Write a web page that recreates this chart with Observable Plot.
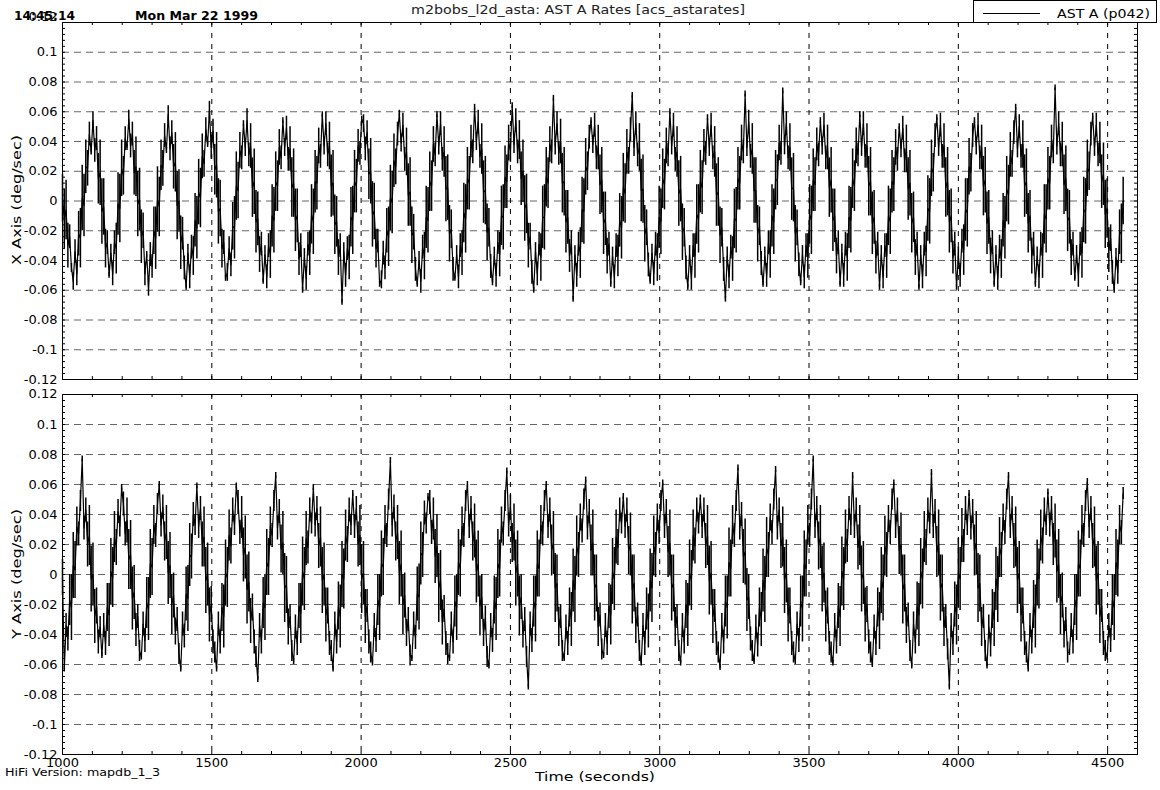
<!DOCTYPE html>
<html><head><meta charset="utf-8">
<script src="https://cdn.jsdelivr.net/npm/d3@7"></script>
<script src="https://cdn.jsdelivr.net/npm/@observablehq/plot@0.6"></script>
<style>
html,body{margin:0;padding:0;background:#fff;}
#wrap{position:relative;width:1160px;height:790px;overflow:hidden;font-family:"DejaVu Sans",sans-serif;}
#p1,#p2,#ov{position:absolute;left:0;}
#p1{top:0}
#p2{top:385px}
#ov{top:0;pointer-events:none}
</style></head>
<body><div id="wrap"><div id="p1"></div><div id="p2"></div><svg id="ov" width="1160" height="790"></svg></div>
<script>
// sampling: first sample time and step (seconds)
const startTime = 1000, sampleStep = 6;
// AST A X-axis rate, thousandths of deg/sec
const xRates = [2,-12,-6,-30,-24,-45,
-54,-34,-49,-22,-25,2,-3,23,22,45,33,
54,34,42,15,19,-7,-4,-32,-28,-50,
-35,-49,-28,-32,-2,-5,22,17,42,36,
55,37,45,19,23,-2,1,-24,-20,-49,-36,
-58,-36,-44,-20,-25,1,-4,24,22,44,34,
58,35,46,23,26,-3,0,-28,-22,-45,-58,
-35,-51,-31,-37,-13,-18,6,2,30,25,48,38,
61,36,47,21,24,-7,-5,-32,-28,-52,
-48,-32,-43,-17,-18,10,7,34,29,52,
36,54,31,37,9,13,-14,-12,-36,-29,-54,
-36,-51,-30,-36,-10,-13,13,10,36,29,54,
36,49,28,35,9,12,-13,-10,-39,-30,-60,
-38,-52,-29,-35,-9,-14,13,12,37,30,58,
37,52,31,37,10,12,-16,-14,-38,-30,-68,
-34,-50,-32,-38,-11,-13,13,10,37,32,55,
52,35,46,18,20,-9,-7,-32,-27,-56,
-53,-35,-45,-20,-24,2,-1,27,23,45,59,
39,51,28,33,4,6,-23,-21,-46,-56,
-40,-54,-31,-37,-11,-13,13,10,38,31,58,
37,52,28,33,8,9,-22,-19,-46,-52,
-36,-51,-30,-35,-8,-12,15,12,40,33,63,
40,53,30,35,6,7,-21,-18,-44,-55,
-37,-50,-28,-36,-10,-11,16,13,39,34,64,
38,54,33,41,15,20,-5,-2,-30,-24,-48,-60,
-34,-49,-29,-38,-11,-11,16,12,38,33,69,
37,52,32,40,12,13,-14,-11,-37,-28,-66,
-36,-50,-29,-35,-6,-7,23,20,43,54,
38,51,29,36,11,14,-15,-12,-37,-29,-56,
-37,-51,-30,-37,-13,-18,9,5,33,27,48,71,
36,52,31,36,7,8,-22,-18,-43,-54,
-35,-49,-29,-38,-11,-14,15,11,37,31,60,
37,51,28,33,5,8,-21,-18,-45,-58,
-36,-52,-30,-37,-9,-12,13,9,37,32,56,
36,51,29,33,4,6,-23,-18,-46,-66,
-37,-51,-31,-39,-12,-13,15,12,39,33,72,
36,53,30,35,7,7,-22,-17,-42,-56,
-37,-50,-28,-36,-10,-14,14,14,39,32,74,
37,52,29,36,8,9,-22,-18,-43,-55,
-36,-51,-30,-37,-9,-13,14,11,38,31,54,
37,51,29,36,9,14,-13,-10,-37,-28,-56,
-35,-50,-29,-38,-11,-13,15,10,37,31,58,
36,52,30,37,10,13,-15,-11,-38,-29,-58,
-36,-51,-30,-37,-10,-14,13,11,36,28,50,
35,49,27,35,8,12,-15,-11,-38,-29,-58,
-36,-51,-29,-34,-5,-7,22,19,44,56,
36,51,30,37,9,13,-14,-10,-38,-29,-58,
-37,-50,-27,-33,-6,-8,23,19,44,54,
37,51,29,36,10,14,-15,-11,-37,-28,-56,
-36,-52,-31,-39,-13,-18,8,4,31,25,46,63,
35,50,30,38,10,13,-15,-10,-37,-29,-56,
-37,-51,-29,-37,-9,-12,15,12,40,33,76,
37,52,31,38,11,15,-13,-11,-38,-29,-52,
-36,-50,-29,-35,-6,-7,22,20,45,57,
36,51,31,39,13,18,-9,-5,-33,-25,-48,-60,
-38,-48,-21,-22,0];
// AST A Y-axis rate, thousandths of deg/sec
const yRates = [-2,
-63,-34,-43,-17,-22,6,3,32,27,49,
77,31,43,20,26,-3,0,-28,-21,-45,-35,
-54,-34,-46,-22,-27,2,-2,25,18,42,32,
58,47,27,36,10,13,-16,-12,-37,-28,-51,
-55,-33,-44,-19,-23,7,5,33,26,47,
60,33,45,22,28,1,6,-20,-14,-38,-30,-53,
-63,-33,-41,-13,-16,13,12,40,33,
59,32,44,20,25,-4,0,-27,-20,-45,-52,
-63,-33,-45,-22,-28,1,-2,26,19,43,33,
59,48,28,38,13,18,-10,-5,-31,-22,-45,-55,
-70,-34,-45,-19,-22,8,5,32,26,49,
66,31,42,17,21,-9,-7,-35,-28,-51,
-58,-35,-46,-21,-26,2,-3,24,18,43,34,
58,33,44,19,25,-4,0,-27,-21,-46,-51,
-63,-33,-45,-21,-28,0,-3,26,20,43,33,
54,32,44,20,26,-3,1,-28,-21,-45,-52,
-59,-34,-44,-17,-22,7,5,33,26,50,
76,33,45,22,28,1,7,-20,-14,-39,-30,-54,
-56,-33,-42,-13,-15,14,13,41,34,
52,48,28,37,12,19,-9,-4,-32,-23,-46,-53,
-56,-33,-45,-18,-22,8,4,32,26,49,
60,32,44,22,29,2,7,-21,-15,-39,-29,-55,
-61,-34,-44,-17,-23,7,4,33,27,49,
69,33,45,21,28,1,7,-21,-15,-40,-30,-55,
-75,-33,-44,-18,-23,7,4,33,27,49,
60,32,43,16,21,-9,-6,-35,-28,-51,
-56,-35,-46,-22,-30,-4,-10,19,13,38,29,50,
63,31,42,16,21,-9,-6,-35,-27,-50,
-54,-34,-46,-21,-27,2,-3,25,18,43,34,
52,32,43,16,20,-10,-6,-34,-27,-51,
-59,-34,-46,-23,-31,-4,-9,19,13,38,28,49,
61,32,42,15,21,-9,-6,-35,-28,-51,
-59,-34,-45,-20,-27,1,-4,26,19,43,34,
51,32,43,19,26,-4,1,-28,-21,-46,-52,
-62,-34,-45,-18,-22,8,4,33,26,49,
71,31,40,12,15,-17,-15,-43,-51,
-58,-35,-47,-22,-30,-4,-10,18,13,38,28,50,
70,31,43,19,25,-4,2,-27,-21,-46,-52,
-58,-33,-44,-18,-23,7,4,33,26,50,
77,32,44,19,25,-3,1,-28,-21,-46,-52,
-59,-34,-45,-21,-28,2,-3,25,19,44,33,
66,32,43,18,26,-3,1,-27,-20,-45,-52,
-60,-35,-46,-22,-31,-4,-9,19,13,37,28,50,
61,32,43,16,20,-10,-6,-34,-27,-51,
-61,-33,-45,-21,-27,2,-3,25,18,43,34,
68,32,42,15,21,-9,-6,-35,-28,-50,
-75,-34,-46,-20,-27,1,-3,26,19,44,33,
54,31,42,16,21,-9,-6,-35,-28,-51,
-61,-35,-47,-23,-30,-3,-10,18,13,38,28,50,
66,32,44,19,25,-4,1,-27,-21,-46,-52,
-63,-34,-45,-20,-28,1,-3,26,19,43,33,
55,33,44,20,29,2,7,-20,-14,-40,-30,-52,
-52,-34,-45,-17,-22,7,4,33,26,49,
62,32,44,19,25,-4,1,-28,-21,-46,-51,
-55,-34,-44,-17,-22,8,4,33,28,54];
// half-height of the fast jitter band around each sample (thousandths of deg/sec):
// widest on the steep flanks, narrower at the crests and troughs
const xJitter = [16,20,20,15,8,3,
6,8,8,15,20,22,21,18,12,8,2,
6,8,8,17,22,22,19,13,8,2,
6,8,8,17,21,23,19,13,8,2,
6,8,8,15,20,22,21,18,12,8,2,
6,8,8,16,21,22,20,17,12,8,2,
6,8,8,15,20,23,21,18,11,8,2,
6,8,8,13,18,21,22,20,15,9,8,2,
6,8,8,17,22,22,19,13,8,2,
6,8,8,16,21,23,19,12,8,2,
6,8,8,15,20,22,21,18,12,8,2,
6,8,8,16,21,22,20,17,12,8,2,
6,8,8,15,20,23,21,18,11,8,2,
6,8,8,15,20,22,21,18,12,8,2,
6,8,8,16,21,22,20,17,12,8,2,
6,8,8,15,20,23,21,18,11,8,2,
6,8,8,17,22,22,19,13,8,2,
6,8,8,15,20,22,21,18,12,8,2,
6,8,8,16,21,23,19,12,8,2,
6,8,8,16,21,22,20,17,12,8,2,
6,8,8,17,22,22,19,13,8,2,
6,8,8,15,20,23,21,18,11,8,2,
6,8,8,17,21,23,19,13,8,2,
6,8,8,15,20,22,21,18,12,8,2,
6,8,8,13,18,21,22,20,15,9,8,2,
6,8,8,16,21,22,20,17,12,8,2,
6,8,8,15,20,23,21,18,11,8,2,
6,8,8,17,22,22,19,13,8,2,
6,8,8,15,20,22,21,18,12,8,2,
6,8,8,14,18,21,23,20,15,9,8,2,
6,8,8,16,21,23,19,12,8,2,
6,8,8,16,21,22,20,17,12,8,2,
6,8,8,17,22,22,19,13,8,2,
6,8,8,15,20,23,21,18,11,8,2,
6,8,8,17,21,23,19,13,8,2,
6,8,8,15,20,22,21,18,12,8,2,
6,8,8,17,22,22,19,13,8,2,
6,8,8,16,21,22,20,17,12,8,2,
6,8,8,16,21,23,19,12,8,2,
6,8,8,15,20,23,21,18,11,8,2,
6,8,8,15,20,22,21,18,12,8,2,
6,8,8,16,21,22,20,17,12,8,2,
6,8,8,15,20,23,21,18,11,8,2,
6,8,8,15,20,22,21,18,12,8,2,
6,8,8,16,21,22,20,17,12,8,2,
6,8,8,17,22,22,19,13,8,2,
6,8,8,15,20,23,21,18,11,8,2,
6,8,8,17,21,23,19,13,8,2,
6,8,8,15,20,22,21,18,12,8,2,
6,8,8,13,18,21,22,20,15,9,8,2,
6,8,8,16,21,22,20,17,12,8,2,
6,8,8,15,20,23,21,18,11,8,2,
6,8,8,15,20,22,21,18,12,8,2,
6,8,8,17,22,22,19,13,8,2,
6,8,8,14,18,21,23,20,15,9,8,2,
6,8,15,20,16];
const yJitter = [12,
2,8,8,17,22,22,19,13,8,7,
2,8,8,15,20,22,21,18,12,8,7,
2,8,8,16,21,22,20,17,12,8,7,
2,8,8,15,20,23,21,18,11,8,7,
2,8,8,17,21,23,19,13,8,7,
2,8,8,13,18,21,22,20,15,9,8,7,
2,8,8,18,22,21,15,8,7,
2,8,8,15,20,22,21,18,12,8,7,
2,8,8,16,21,22,20,17,12,8,7,
2,8,8,14,18,21,23,20,15,9,8,7,
2,8,8,17,22,22,19,13,8,7,
2,8,8,16,21,23,19,12,8,7,
2,8,8,15,20,23,21,18,11,8,7,
2,8,8,15,20,22,21,18,12,8,7,
2,8,8,16,21,22,20,17,12,8,7,
2,8,8,15,20,23,21,18,11,8,7,
2,8,8,17,22,22,19,13,8,7,
2,8,8,13,18,21,22,20,15,9,8,7,
2,8,8,18,22,21,15,8,7,
2,8,8,14,18,21,23,20,15,9,8,7,
2,8,8,17,22,22,19,13,8,7,
2,8,8,13,18,21,22,20,15,9,8,7,
2,8,8,16,21,23,19,12,8,7,
2,8,8,13,19,22,22,20,15,9,8,7,
2,8,8,17,22,22,19,13,8,7,
2,8,8,17,21,23,19,13,8,7,
2,8,8,13,18,21,22,20,15,9,8,7,
2,8,8,17,22,22,19,13,8,7,
2,8,8,15,20,22,21,18,12,8,7,
2,8,8,16,21,23,19,12,8,7,
2,8,8,14,18,21,23,20,15,9,8,7,
2,8,8,17,22,22,19,13,8,7,
2,8,8,16,21,22,20,17,12,8,7,
2,8,8,15,20,23,21,18,11,8,7,
2,8,8,17,21,23,19,13,8,7,
2,8,8,18,22,21,15,8,7,
2,8,8,13,18,21,22,20,15,9,8,7,
2,8,8,15,20,22,21,18,12,8,7,
2,8,8,17,22,22,19,13,8,7,
2,8,8,16,21,22,20,17,12,8,7,
2,8,8,15,20,23,21,18,11,8,7,
2,8,8,15,20,22,21,18,12,8,7,
2,8,8,13,19,22,22,20,15,9,8,7,
2,8,8,16,21,23,19,12,8,7,
2,8,8,16,21,22,20,17,12,8,7,
2,8,8,17,22,22,19,13,8,7,
2,8,8,15,20,23,21,18,11,8,7,
2,8,8,17,21,23,19,13,8,7,
2,8,8,13,18,21,22,20,15,9,8,7,
2,8,8,15,20,22,21,18,12,8,7,
2,8,8,16,21,22,20,17,12,8,7,
2,8,8,14,18,21,23,20,15,9,8,7,
2,8,8,17,22,22,19,13,8,7,
2,8,8,15,20,23,21,18,11,8,7,
2,8,8,17,22,22,19,13,8,4];

const xTicks = [1000,1500,2000,2500,3000,3500,4000,4500];
const xTickLabels = ["1000","1500","2000","2500","3000","3500","4000","4500"];
const xGridLines = [1500,2000,2500,3000,3500,4000,4500];
const yTicks = [-0.12,-0.1,-0.08,-0.06,-0.04,-0.02,0,0.02,0.04,0.06,0.08,0.1,0.12];
const yTickLabels = ["-0.12","-0.1","-0.08","-0.06","-0.04","-0.02","0","0.02","0.04","0.06","0.08","0.1","0.12"];
const yGridLines = [-0.1,-0.08,-0.06,-0.04,-0.02,0,0.02,0.04,0.06,0.08,0.1];
const panelTitles = ["X Axis (deg/sec)","Y Axis (deg/sec)"];
const seriesName = "AST A (p042)";

const xDomain = [1000, 4600];
const yDomain = [-0.12, 0.12];
const minorY = d3.range(0, 61).map(i => -0.12 + i * 0.004);
const minorX = d3.range(0, 37).map(i => 1000 + i * 100);
const yFmt = d => yTickLabels[yTicks.findIndex(v => Math.abs(v - d) < 1e-9)];
const xFmt = d => xTickLabels[xTicks.indexOf(d)];

function panel(values, jitter, opts) {
  const data = values.map((v, i) => {
    const s = jitter[i] || 0;
    return {t: startTime + i * sampleStep, v: v / 1000, lo: (v - s) / 1000, hi: (v + s) / 1000};
  });
  const W = 1160, mL = 62, mR = 23;
  const frameW = W - mL - mR;
  const frameH = opts.height - opts.marginTop - opts.marginBottom;
  return Plot.plot({
    width: W, height: opts.height,
    marginLeft: mL, marginRight: mR, marginTop: opts.marginTop, marginBottom: opts.marginBottom,
    style: {fontFamily: '"DejaVu Sans", sans-serif', fontSize: "13px", color: "#000", background: "transparent", overflow: "visible"},
    x: {domain: xDomain, ticks: xTicks, tickSize: 0, tickPadding: 3, tickFormat: xFmt, label: null, axis: opts.showX ? "bottom" : null},
    y: {domain: yDomain, ticks: yTicks.filter(d => d < 0.119), tickSize: 0, tickPadding: 5, tickFormat: yFmt, label: null},
    marks: [
      Plot.ruleY(yGridLines, {stroke: "#666", strokeDasharray: "7,5"}),
      Plot.ruleX(xGridLines, {stroke: "#000", strokeDasharray: "5,6"}),
      Plot.tickY(minorY, {y: d => d, insetRight: frameW - 3, stroke: "#000"}),
      Plot.tickY(minorY, {y: d => d, insetLeft: frameW - 3, stroke: "#000"}),
      Plot.tickX(minorX, {x: d => d, insetBottom: frameH - 3, stroke: "#000"}),
      Plot.tickX(minorX, {x: d => d, insetTop: frameH - 3, stroke: "#000"}),
      Plot.ruleX(data, {x: "t", y1: "lo", y2: "hi", stroke: "#000", strokeWidth: 1.5}),
      Plot.line(data, {x: "t", y: "v", stroke: "#000", strokeWidth: 1.2}),
      Plot.frame({stroke: "#000"}),
      Plot.text([0.12], {y: d => d, text: yFmt, frameAnchor: "left", textAnchor: "end", dx: -5, dy: opts.topDy, fill: "#000", fontSize: 13})
    ]
  });
}

document.getElementById("p1").appendChild(panel(xRates, xJitter, {height: 380, marginTop: 22, marginBottom: 1, showX: false, topDy: -6}));
document.getElementById("p2").appendChild(panel(yRates, yJitter, {height: 405, marginTop: 9, marginBottom: 36, showX: true, topDy: -1}));

// header, legend, axis titles
const ov = d3.select("#ov");
function txt(s, x, y, size, len, extra = {}) {
  const t = ov.append("text").text(s).attr("x", x).attr("y", y)
    .attr("font-family", '"DejaVu Sans", sans-serif').attr("font-size", size)
    .attr("fill", extra.fill || "#000");
  if (len) t.attr("textLength", len).attr("lengthAdjust", "spacingAndGlyphs");
  if (extra.anchor) t.attr("text-anchor", extra.anchor);
  if (extra.rotate) t.attr("transform", `rotate(-90 ${x} ${y})`);
  if (extra.weight) t.attr("font-weight", extra.weight);
  return t;
}
txt("14:45:14", 14, 20, 13, 61, {weight: "bold"});
txt("Mon Mar 22 1999", 135, 20, 13, 123, {weight: "bold"});
txt("m2bobs_l2d_asta: AST A Rates [acs_astarates]", 411, 14, 12.5, 334, {fill: "#222"});
ov.append("rect").attr("x", 973.5).attr("y", 0.5).attr("width", 183).attr("height", 22)
  .attr("fill", "#fff").attr("stroke", "#000");
ov.append("line").attr("x1", 983).attr("x2", 1040).attr("y1", 13.5).attr("y2", 13.5).attr("stroke", "#000");
txt(seriesName, 1057, 18, 12.5, 93);
txt(panelTitles[0], 21, 200, 12.5, 130, {anchor: "middle", rotate: true});
txt(panelTitles[1], 21, 574, 12.5, 130, {anchor: "middle", rotate: true});
txt("Time (seconds)", 595, 781, 13, 120, {anchor: "middle"});
txt("HiFi Version: mapdb_1_3", 5, 776, 10.5, 155);
</script>
</body></html>
